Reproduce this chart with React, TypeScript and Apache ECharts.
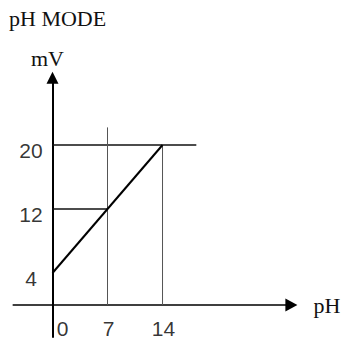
import React, { useEffect, useRef } from 'react';
import * as echarts from 'echarts';

const titleText = 'pH MODE';
const xName = 'pH';
const yName = 'mV';
const xTicks = [0, 7, 14];
const yTicks = [4, 12, 20];
const responsePH = [0, 14];
const responseMV = [4, 20];
const hGuideY = [20, 12];
const hGuideEndX = [18.3, 7];
const vGuideX = [7, 14];
const vGuideTopY = [22.2, 20];
const xExtent = [-5, 30.4];
const yExtent = [-4, 28.4];

export default function App() {
  const ref = useRef<HTMLDivElement>(null);
  useEffect(() => {
    if (!ref.current) return;
    const chart = echarts.init(ref.current, undefined, { renderer: 'svg' });
    const sans = 'Liberation Sans, Arial, sans-serif';
    const serif = 'Liberation Serif, Times New Roman, serif';
    const ink = '#000';
    const series: any[] = [];
    series.push({
      type: 'line',
      data: responsePH.map((x, i) => [x, responseMV[i]]),
      symbol: 'none',
      lineStyle: { color: ink, width: 2 },
      z: 3,
    });
    hGuideY.forEach((y, i) => {
      series.push({
        type: 'line',
        data: [[0, y], [hGuideEndX[i], y]],
        symbol: 'none',
        lineStyle: { color: '#111', width: 1.5 },
        z: 2,
      });
    });
    vGuideX.forEach((x, i) => {
      series.push({
        type: 'line',
        data: [[x, 0], [x, vGuideTopY[i]]],
        symbol: 'none',
        lineStyle: { color: '#555', width: 1 },
        z: 2,
      });
    });
    series.push({
      type: 'scatter',
      symbolSize: 0,
      silent: true,
      data: xTicks.map((v) => ({
        value: [v, 0],
        label: {
          show: true,
          position: 'inside',
          formatter: String(v),
          offset: [v === 0 ? 10 : 1, 23],
          fontFamily: sans,
          fontSize: 21,
          color: ink,
        },
      })),
    });
    series.push({
      type: 'scatter',
      symbolSize: 0,
      silent: true,
      data: yTicks.map((v) => ({
        value: [0, v],
        label: {
          show: true,
          position: 'inside',
          formatter: String(v),
          offset: [-21.5, 5],
          fontFamily: sans,
          fontSize: 21,
          color: ink,
        },
      })),
    });
    chart.setOption({
      animation: false,
      title: {
        text: titleText,
        left: 9,
        top: 7,
        padding: 0,
        textStyle: { fontFamily: serif, fontWeight: 'normal', fontSize: 22, color: '#111' },
      },
      grid: { left: 13.2, right: 53.6, top: 77.8, bottom: 3, containLabel: false },
      xAxis: {
        type: 'value',
        min: xExtent[0],
        max: xExtent[1],
        name: xName,
        nameLocation: 'end',
        nameGap: 22,
        nameTextStyle: { fontFamily: serif, fontSize: 22, color: '#111', padding: [4, 0, 0, 0] },
        axisLine: {
          onZero: true,
          symbol: ['none', 'triangle'],
          symbolSize: [13, 12],
          lineStyle: { color: ink, width: 1.5 },
        },
        axisTick: { show: false },
        axisLabel: { show: false },
        splitLine: { show: false },
      },
      yAxis: {
        type: 'value',
        min: yExtent[0],
        max: yExtent[1],
        name: yName,
        nameLocation: 'end',
        nameGap: 8,
        nameTextStyle: { fontFamily: serif, fontSize: 22, color: '#111', padding: [0, 10, 0, 0] },
        axisLine: {
          onZero: true,
          symbol: ['none', 'triangle'],
          symbolSize: [12, 12],
          lineStyle: { color: ink, width: 2 },
        },
        axisTick: { show: false },
        axisLabel: { show: false },
        splitLine: { show: false },
      },
      series,
    });
    return () => chart.dispose();
  }, []);
  return (
    <div
      ref={ref}
      style={{ position: 'fixed', left: 0, top: 0, width: 345, height: 340, background: '#fff' }}
    />
  );
}
